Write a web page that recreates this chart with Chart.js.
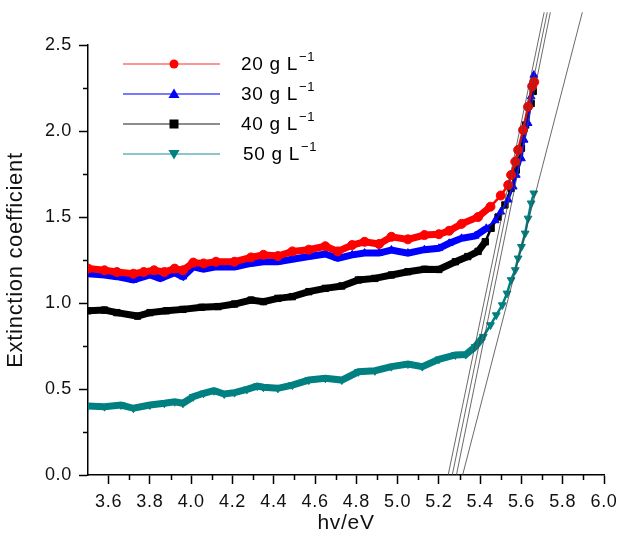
<!DOCTYPE html>
<html>
<head>
<meta charset="utf-8">
<script src="https://cdn.jsdelivr.net/npm/chart.js@4.4.1/dist/chart.umd.min.js"></script>
<style>
  html, body { margin: 0; padding: 0; background: #fff; }
</style>
</head>
<body>
<canvas id="chart" width="628" height="540"></canvas>
<script>
// values
const energy20 = [3.50,3.58,3.64,3.72,3.77,3.82,3.87,3.92,3.96,4.01,4.06,4.12,4.21,4.29,4.35,4.42,4.49,4.57,4.65,4.71,4.78,4.84,4.91,4.97,5.05,5.13,5.20,5.25,5.31,5.39,5.45,5.50,5.536,5.55,5.57,5.584,5.608,5.632,5.652,5.662];
const k20 = [1.20,1.19,1.18,1.17,1.18,1.19,1.18,1.20,1.19,1.235,1.23,1.24,1.24,1.265,1.28,1.273,1.30,1.31,1.33,1.30,1.337,1.356,1.343,1.385,1.37,1.395,1.40,1.42,1.46,1.50,1.56,1.625,1.686,1.744,1.822,1.89,2.006,2.141,2.26,2.285];

const energy30 = [3.50,3.58,3.64,3.72,3.80,3.85,3.92,3.96,4.01,4.06,4.12,4.21,4.29,4.35,4.42,4.49,4.57,4.65,4.71,4.78,4.84,4.91,4.97,5.05,5.13,5.20,5.25,5.31,5.376,5.43,5.473,5.50,5.536,5.56,5.575,5.60,5.613,5.632,5.647,5.66];
const k30 = [1.17,1.163,1.153,1.134,1.163,1.143,1.176,1.153,1.21,1.196,1.21,1.21,1.23,1.24,1.24,1.254,1.27,1.285,1.26,1.28,1.29,1.29,1.308,1.29,1.31,1.318,1.347,1.376,1.39,1.434,1.48,1.53,1.60,1.676,1.744,1.84,1.948,2.045,2.2,2.325];

const energy40 = [3.50,3.58,3.64,3.74,3.80,3.88,3.96,4.05,4.13,4.21,4.29,4.35,4.42,4.49,4.57,4.65,4.73,4.81,4.89,4.97,5.05,5.13,5.20,5.28,5.34,5.39,5.425,5.453,5.487,5.52,5.55,5.575,5.60,5.62,5.647,5.657];
const k40 = [0.955,0.959,0.944,0.924,0.944,0.955,0.963,0.975,0.979,0.994,1.017,1.008,1.027,1.037,1.066,1.085,1.099,1.134,1.143,1.163,1.182,1.196,1.195,1.24,1.27,1.30,1.356,1.434,1.50,1.57,1.667,1.773,1.90,2.035,2.16,2.23];

const energy50 = [3.50,3.58,3.66,3.72,3.80,3.87,3.92,3.96,4.01,4.06,4.11,4.16,4.21,4.27,4.32,4.35,4.42,4.49,4.57,4.65,4.73,4.81,4.89,4.97,5.05,5.12,5.20,5.28,5.33,5.376,5.415,5.45,5.478,5.507,5.53,5.55,5.57,5.584,5.60,5.618,5.632,5.647,5.66];
const k50 = [0.401,0.397,0.407,0.388,0.407,0.417,0.426,0.417,0.455,0.475,0.49,0.471,0.479,0.498,0.517,0.51,0.504,0.523,0.552,0.562,0.552,0.60,0.606,0.63,0.645,0.63,0.673,0.698,0.70,0.746,0.804,0.872,0.93,0.988,1.056,1.134,1.192,1.26,1.327,1.405,1.492,1.58,1.638];

// linear fits to the absorption edge: x at k=0 and x at k=tangentTop
const tangentStart = [5.245, 5.265, 5.285, 5.315];
const tangentEnd = [5.71, 5.725, 5.74, 5.895];
const tangentTop = 2.69;

const xTicks = [3.6,3.8,4.0,4.2,4.4,4.6,4.8,5.0,5.2,5.4,5.6,5.8,6.0];
const xMinor = [3.7,3.9,4.1,4.3,4.5,4.7,4.9,5.1,5.3,5.5,5.7,5.9];
const yTicks = [0.0,0.5,1.0,1.5,2.0,2.5];
const yMinor = [0.25,0.75,1.25,1.75,2.25];

const seriesNames = ['20 g L', '30 g L', '40 g L', '50 g L'];
const seriesColors = ['#ff0000', '#0000ff', '#000000', '#008080'];
const legendLineColors = ['rgba(255,0,0,0.55)', 'rgba(0,0,255,0.7)', 'rgba(0,0,0,0.6)', 'rgba(0,128,128,0.6)'];

const FONT = '"Liberation Sans", Arial, Helvetica, sans-serif';

function pts(xs, ys) {
    return xs.map((x, i) => ({ x: x, y: ys[i] }));
}

function series(i, xs, ys, style, rotation) {
    return {
        label: seriesNames[i],
        data: pts(xs, ys),
        showLine: true,
        borderColor: seriesColors[i],
        backgroundColor: seriesColors[i],
        pointStyle: style,
        rotation: rotation || 0,
        pointRadius: 4.5,
        pointBorderWidth: 1,
        borderWidth: 7,
        segment: {
            borderWidth: ctx => (ctx.p0.parsed.x >= 5.40 ? 2.5 : 7)
        }
    };
}

const tangentSets = tangentStart.map((x0, i) => ({
    label: 'fit' + i,
    data: [{ x: x0, y: 0 }, { x: tangentEnd[i], y: tangentTop }],
    showLine: true,
    borderColor: '#444',
    borderWidth: 0.8,
    pointRadius: 0,
    clip: false
}));

// slightly wider text, like the original figure
const spacing = {
    id: 'spacing',
    beforeDraw(chart) {
        chart.ctx.letterSpacing = '0.7px';
    }
};

const minorTicks = {
    id: 'minorTicks',
    afterDraw(chart) {
        const { ctx, chartArea, scales } = chart;
        ctx.save();
        ctx.strokeStyle = '#000';
        ctx.lineWidth = 1.5;
        ctx.beginPath();
        xMinor.forEach(v => {
            const px = Math.round(scales.x.getPixelForValue(v)) + 0.5;
            ctx.moveTo(px, chartArea.bottom);
            ctx.lineTo(px, chartArea.bottom + 5);
        });
        yMinor.forEach(v => {
            const py = Math.round(scales.y.getPixelForValue(v)) + 0.5;
            ctx.moveTo(chartArea.left, py);
            ctx.lineTo(chartArea.left - 5, py);
        });
        ctx.stroke();
        ctx.restore();
    }
};

function marker(ctx, style, x, y, color) {
    ctx.fillStyle = color;
    ctx.beginPath();
    if (style === 'circle') {
        ctx.arc(x, y, 4.5, 0, Math.PI * 2);
    } else if (style === 'rect') {
        ctx.rect(x - 4.5, y - 4.5, 9, 9);
    } else if (style === 'up') {
        ctx.moveTo(x, y - 5.5);
        ctx.lineTo(x + 5.5, y + 4);
        ctx.lineTo(x - 5.5, y + 4);
    } else {
        ctx.moveTo(x, y + 5.5);
        ctx.lineTo(x + 5.5, y - 4);
        ctx.lineTo(x - 5.5, y - 4);
    }
    ctx.closePath();
    ctx.fill();
}

const legendStyles = ['circle', 'up', 'rect', 'down'];

const inlineLegend = {
    id: 'inlineLegend',
    afterDraw(chart) {
        const ctx = chart.ctx;
        ctx.save();
        seriesNames.forEach((name, i) => {
            const y = 64 + i * 30;
            ctx.strokeStyle = legendLineColors[i];
            ctx.lineWidth = 1.5;
            ctx.beginPath();
            ctx.moveTo(123, y);
            ctx.lineTo(220, y);
            ctx.stroke();
            marker(ctx, legendStyles[i], 174, y, seriesColors[i]);

            ctx.fillStyle = '#000';
            ctx.textBaseline = 'middle';
            ctx.textAlign = 'left';
            ctx.font = '19px ' + FONT;
            const tx = i === 3 ? 243 : 241;
            ctx.fillText(name, tx, y + 1);
            const w = ctx.measureText(name).width;
            ctx.font = '13px ' + FONT;
            ctx.fillText('\u22121', tx + w + 1, y - 7);
        });
        ctx.restore();
    }
};

new Chart(document.getElementById('chart'), {
    type: 'scatter',
    data: {
        datasets: [
            ...tangentSets,
            series(0, energy20, k20, 'circle'),
            series(1, energy30, k30, 'triangle'),
            series(2, energy40, k40, 'rect'),
            series(3, energy50, k50, 'triangle', 180)
        ]
    },
    options: {
        responsive: false,
        animation: false,
        layout: { padding: { top: 45, right: 24, left: 0, bottom: 0 } },
        plugins: {
            legend: { display: false },
            tooltip: { enabled: false }
        },
        scales: {
            x: {
                type: 'linear',
                min: 3.5,
                max: 6.0,
                afterBuildTicks: s => { s.ticks = xTicks.map(v => ({ value: v })); },
                afterFit: s => { s.height = 65; },
                ticks: {
                    callback: v => v.toFixed(1),
                    font: { size: 18, family: FONT },
                    color: '#111',
                    padding: 7,
                    maxRotation: 0
                },
                grid: {
                    drawOnChartArea: false,
                    drawTicks: true,
                    tickLength: 9,
                    tickColor: '#000',
                    tickWidth: 1.5
                },
                border: { display: true, color: '#000', width: 1.5 },
                title: {
                    display: true,
                    text: 'hv/eV',
                    font: { size: 21, family: FONT },
                    color: '#111',
                    padding: { top: 0, bottom: 4 }
                }
            },
            y: {
                min: 0,
                max: 2.5,
                afterBuildTicks: s => { s.ticks = yTicks.map(v => ({ value: v })); },
                afterFit: s => { s.width = 88; },
                ticks: {
                    callback: v => v.toFixed(1),
                    font: { size: 18, family: FONT },
                    color: '#111',
                    padding: 7
                },
                grid: {
                    drawOnChartArea: false,
                    drawTicks: true,
                    tickLength: 9,
                    tickColor: '#000',
                    tickWidth: 1.5
                },
                border: { display: true, color: '#000', width: 1.5 },
                title: {
                    display: true,
                    text: 'Extinction coefficient',
                    font: { size: 22, family: FONT },
                    color: '#111',
                    padding: { top: 3, bottom: 0 }
                }
            }
        }
    },
    plugins: [spacing, minorTicks, inlineLegend]
});
</script>
</body>
</html>
